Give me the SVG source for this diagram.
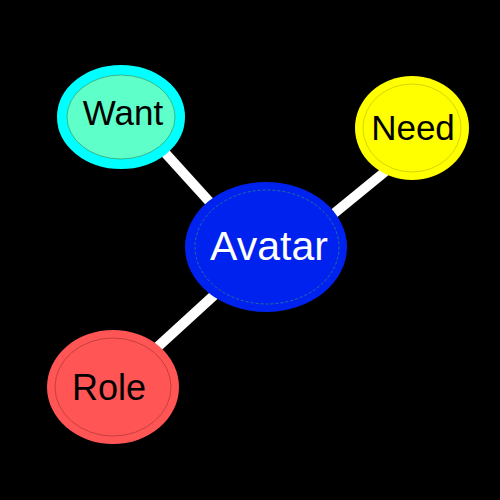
<svg xmlns="http://www.w3.org/2000/svg" width="500" height="500" viewBox="0 0 500 500">
<style>
.lbl{font-family:"Liberation Sans",Arial,sans-serif;text-anchor:middle}
.edge{stroke:#ffffff;stroke-width:10;fill:none}
</style>
<rect width="500" height="500" fill="#000000"/>
<g id="connectors">
<line class="edge" x1="158" y1="145" x2="216" y2="209"/>
<line class="edge" x1="392" y1="166" x2="326" y2="220"/>
<line class="edge" x1="152" y1="352" x2="222" y2="288"/>
</g>
<g id="want">
<ellipse cx="121" cy="117" rx="59" ry="47" fill="#5effc8" stroke="#00ffff" stroke-width="10"/>
<ellipse cx="121" cy="117" rx="54" ry="42" fill="none" stroke="#2e8b57" stroke-width="0.6"/>
<text class="lbl" x="123" y="125" font-size="35" fill="#000000">Want</text>
</g>
<g id="need">
<ellipse cx="412" cy="128" rx="57" ry="52" fill="#ffff00"/>
<ellipse cx="412" cy="128" rx="49" ry="44" fill="none" stroke="#b8b800" stroke-width="0.6"/>
<text class="lbl" x="413" y="140" font-size="35" fill="#000000">Need</text>
</g>
<g id="avatar">
<ellipse cx="266" cy="247" rx="81" ry="65" fill="#0022ee"/>
<ellipse cx="267" cy="247" rx="72" ry="57" fill="none" stroke="#3aa06a" stroke-width="0.6" stroke-dasharray="3,2"/>
<text class="lbl" x="269" y="260" font-size="41" fill="#ffffff">Avatar</text>
</g>
<g id="role">
<ellipse cx="113" cy="387" rx="66" ry="57" fill="#ff5555"/>
<ellipse cx="113" cy="387" rx="58" ry="49" fill="none" stroke="#a03030" stroke-width="0.6"/>
<text class="lbl" x="109" y="400" font-size="36" fill="#000000">Role</text>
</g>
</svg>
